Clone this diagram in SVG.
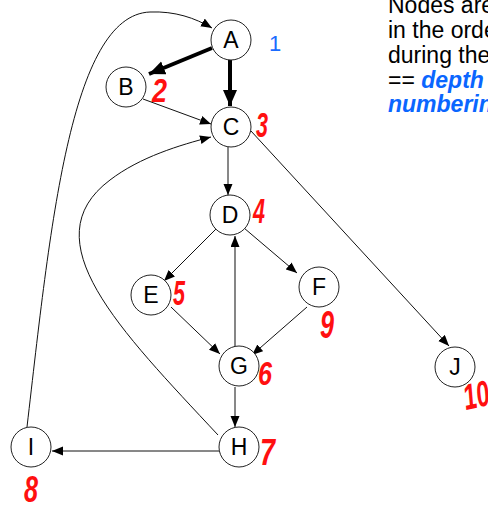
<svg xmlns="http://www.w3.org/2000/svg" width="488" height="506" viewBox="0 0 488 506">
<style>
.node circle{fill:#fff;stroke:#222;stroke-width:1}
.node text{font-family:"Liberation Sans",Arial,sans-serif;font-size:23px;fill:#000;text-anchor:middle;dominant-baseline:central}
.e{fill:none;stroke:#111;stroke-width:1;marker-end:url(#ah)}
.thick{fill:none;stroke:#000;stroke-width:4;marker-end:url(#ahb)}
.num{font-family:"Liberation Sans",Arial,sans-serif;font-weight:bold;font-style:italic;fill:#ff1010;font-size:36px}
.note{font-family:"Liberation Sans",Arial,sans-serif;font-size:23px;fill:#000}
.blue{fill:#0a66ff;font-weight:bold;font-style:italic}
</style>
<defs>
<marker id="ah" markerUnits="userSpaceOnUse" markerWidth="12" markerHeight="10" refX="11" refY="4.5" orient="auto">
<path d="M0,0 L11,4.5 L0,9 z" fill="#000"/>
</marker>
<marker id="ahb" markerUnits="userSpaceOnUse" markerWidth="18" markerHeight="16" refX="16" refY="7" orient="auto">
<path d="M0,0 L16,7 L0,14 z" fill="#000"/>
</marker>
</defs>
<g id="connectors">
<path class="thick" d="M212,48 L149,74"/>
<path class="thick" d="M230,60 L230,106"/>
<path class="e" d="M143,99 L211,124"/>
<path class="e" d="M228,147 L228,195"/>
<path class="e" d="M251,131 L449,346"/>
<path class="e" d="M217,228 L164,281"/>
<path class="e" d="M244,228 L297,273"/>
<path class="e" d="M171,307 L220,354"/>
<path class="e" d="M307,307 L252,355"/>
<path class="e" d="M235,347 L235,236" style="stroke:#444;stroke-width:1.3"/>
<path class="e" d="M235,387 L235,427"/>
<path class="e" d="M219,451 L52,451"/>
<path class="e" d="M218,435 C120,330 30,240 110,180 C140,157 180,145 211,137"/>
<path class="e" d="M27,427 C50,230 70,15 150,12 C175,11 195,18 212,28"/>
</g>
<g id="A" class="node"><circle cx="231" cy="40" r="20"/><text x="231" y="40">A</text></g>
<g id="B" class="node"><circle cx="126" cy="87" r="20"/><text x="126" y="87">B</text></g>
<g id="C" class="node"><circle cx="231" cy="127" r="20"/><text x="231" y="127">C</text></g>
<g id="D" class="node"><circle cx="230" cy="215" r="20"/><text x="230" y="215">D</text></g>
<g id="E" class="node"><circle cx="151" cy="295" r="20"/><text x="151" y="295">E</text></g>
<g id="F" class="node"><circle cx="319" cy="287" r="20"/><text x="319" y="287">F</text></g>
<g id="G" class="node"><circle cx="239" cy="366" r="20"/><text x="239" y="366">G</text></g>
<g id="H" class="node"><circle cx="239" cy="447" r="20"/><text x="239" y="447">H</text></g>
<g id="I" class="node"><circle cx="31" cy="447" r="20"/><text x="31" y="447">I</text></g>
<g id="J" class="node"><circle cx="455" cy="367" r="20"/><text x="455" y="367">J</text></g>
<g id="numbers">
<text x="269" y="51" style="font-family:'Liberation Sans',Arial,sans-serif;font-size:22px;fill:#1a6cff">1</text>
<text class="num" transform="translate(152,102) scale(0.75,0.9)">2</text>
<text class="num" transform="translate(256,137) scale(0.6,1)">3</text>
<text class="num" transform="translate(253,223) scale(0.6,1)">4</text>
<text class="num" transform="translate(173,305) scale(0.6,1)">5</text>
<text class="num" transform="translate(320,338) scale(0.7,1.1)">9</text>
<text class="num" transform="translate(258,385) scale(0.7,0.9)">6</text>
<text class="num" transform="translate(260,465) scale(0.75,1)">7</text>
<text class="num" transform="translate(24,502) scale(0.7,1.05)">8</text>
<text class="num" transform="translate(466,410) rotate(-12) scale(0.65,1)">10</text>
</g>
<g id="note" class="note">
<text x="388" y="13">Nodes are</text>
<text x="388" y="38">in the order</text>
<text x="388" y="63">during the</text>
<text x="388" y="88">== <tspan class="blue">depth</tspan></text>
<text x="388" y="112" class="blue">numbering</text>
</g>
</svg>
